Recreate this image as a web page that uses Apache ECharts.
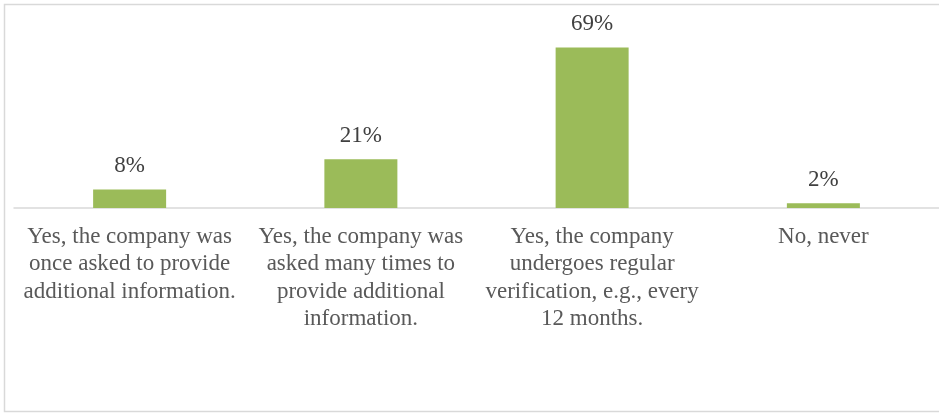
<!DOCTYPE html>
<html>
<head>
<meta charset="utf-8">
<script src="https://cdn.jsdelivr.net/npm/echarts@6/dist/echarts.min.js"></script>
<style>
html,body{margin:0;padding:0;background:#fff;}
#c{width:939px;height:413px;}
</style>
</head>
<body>
<div id="c"></div>
<script>
const categories = [
  "Yes, the company was\nonce asked to provide\nadditional information.",
  "Yes, the company was\nasked many times to\nprovide additional\ninformation.",
  "Yes, the company\nundergoes regular\nverification, e.g., every\n12 months.",
  "No, never"
];
const values = [8, 21, 69, 2];

const chart = echarts.init(document.getElementById('c'), null, {renderer: 'canvas'});
const FONT = '"Liberation Serif", "Times New Roman", serif';
chart.setOption({
  animation: false,
  backgroundColor: '#fff',
  graphic: [{
    type: 'rect',
    shape: {x: 4.5, y: 4.5, width: 960, height: 407},
    style: {fill: 'none', stroke: '#d9d9d9', lineWidth: 1.5},
    silent: true
  }],
  grid: {left: 14, top: 22, width: 930, height: 186, containLabel: false},
  xAxis: {
    type: 'category',
    data: categories,
    axisLine: {lineStyle: {color: '#d9d9d9', width: 1.5}},
    axisTick: {show: false},
    axisLabel: {
      interval: 0,
      margin: 15,
      fontFamily: FONT,
      fontSize: 23,
      lineHeight: 27.5,
      color: '#595959',
      align: 'center'
    }
  },
  yAxis: {
    type: 'value',
    min: 0,
    max: 80,
    show: false,
    splitLine: {show: false}
  },
  series: [{
    type: 'bar',
    data: values,
    barWidth: 73,
    itemStyle: {color: '#9bbb59'},
    label: {
      show: true,
      position: 'top',
      distance: 12,
      formatter: p => p.value + '%',
      fontFamily: FONT,
      fontSize: 23,
      color: '#404040'
    }
  }]
});
</script>
</body>
</html>
